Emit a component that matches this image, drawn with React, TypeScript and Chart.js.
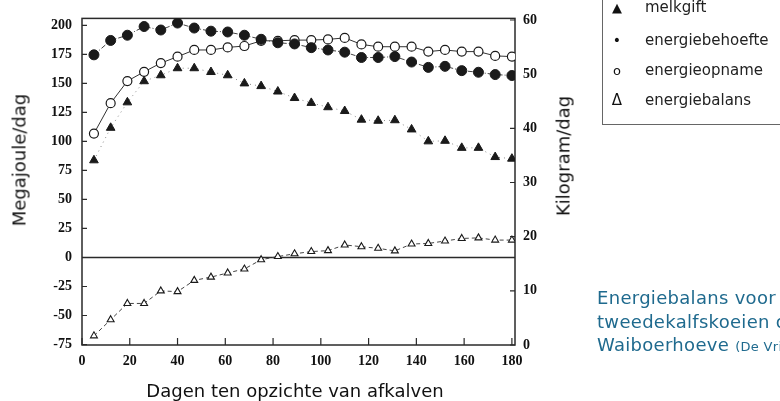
import React, { useEffect, useRef } from "react";
import { Chart, registerables } from "chart.js";

Chart.register(...registerables);

// Days after calving (weekly measurements)
const days = [5, 12, 19, 26, 33, 40, 47, 54, 61, 68, 75, 82, 89, 96, 103, 110, 117, 124, 131, 138, 145, 152, 159, 166, 173, 180];
// kg/day (right axis)
const melkgift = [34.1, 40.1, 44.8, 48.7, 49.8, 51.1, 51.1, 50.4, 49.8, 48.3, 47.8, 46.8, 45.6, 44.7, 43.9, 43.2, 41.6, 41.4, 41.5, 39.8, 37.6, 37.7, 36.4, 36.4, 34.7, 34.4];
// MJ/day (left axis)
const energiebehoefte = [174.6, 187, 191.5, 199, 196, 202, 197.7, 195, 194.3, 191.5, 188, 185, 184, 180.8, 178.8, 176.9, 172.3, 172.3, 173.1, 168.4, 163.8, 164.7, 161, 159.6, 157.6, 156.8];
const energieopname = [106.8, 133, 152, 160, 167.5, 173, 178.8, 178.8, 181, 182.2, 186.7, 186.7, 187.3, 187.3, 187.9, 189.2, 183.6, 181.6, 181.6, 181.6, 177.4, 178.8, 177.4, 177.4, 173.7, 173.1];
const energiebalans = [-67.5, -53.6, -39.6, -39.6, -28.8, -29.4, -19.7, -16.9, -13.3, -9.9, -1.9, 0.8, 3.2, 5.1, 5.9, 10.8, 9.3, 7.9, 5.7, 11.6, 12.1, 14.2, 16.4, 16.9, 15, 15];

const xTicks = [0, 20, 40, 60, 80, 100, 120, 140, 160, 180];
const leftTicks = [-75, -50, -25, 0, 25, 50, 75, 100, 125, 150, 175, 200];
const rightTicks = [0, 10, 20, 30, 40, 50, 60];

const legendItems = [
  { symbol: "▲", label: "melkgift" },
  { symbol: "•", label: "energiebehoefte" },
  { symbol: "o", label: "energieopname" },
  { symbol: "Δ", label: "energiebalans" },
];

const captionLines = ["Energiebalans voor", "tweedekalfskoeien op de"];
const captionLast = "Waiboerhoeve";
const captionSource = "(De Vries)";

const INK = "#1a1a1a";

const framePlugin = {
  id: "framePlugin",
  beforeDatasetsDraw(chart: any) {
    const { ctx, chartArea } = chart;
    const { left, right, top, bottom } = chartArea;
    const x = chart.scales.x;
    const y = chart.scales.y;
    const y2 = chart.scales.y2;
    ctx.save();
    ctx.strokeStyle = "#2a2a2a";
    ctx.lineWidth = 1.5;
    ctx.strokeRect(left, top, right - left, bottom - top);
    // zero line
    const y0 = y.getPixelForValue(0);
    ctx.beginPath();
    ctx.moveTo(left, y0);
    ctx.lineTo(right, y0);
    ctx.stroke();
    // inward ticks
    ctx.lineWidth = 1.2;
    ctx.beginPath();
    leftTicks.forEach((v) => {
      const p = y.getPixelForValue(v);
      ctx.moveTo(left, p);
      ctx.lineTo(left + 5, p);
    });
    rightTicks.forEach((v) => {
      const p = y2.getPixelForValue(v);
      ctx.moveTo(right, p);
      ctx.lineTo(right - 5, p);
    });
    xTicks.forEach((v) => {
      const p = x.getPixelForValue(v);
      ctx.moveTo(p, bottom);
      ctx.lineTo(p, bottom - 7);
    });
    ctx.stroke();
    ctx.restore();
  },
};

const tickFont = { family: "'Liberation Serif', 'Times New Roman', serif", weight: "bold" as const, size: 14 };

export default function App() {
  const canvasRef = useRef<HTMLCanvasElement | null>(null);

  useEffect(() => {
    const canvas = canvasRef.current;
    if (!canvas) return;
    const toPts = (arr: number[]) => days.map((d, i) => ({ x: d, y: arr[i] }));
    const chart = new Chart(canvas, {
      type: "line",
      data: {
        datasets: [
          {
            label: "melkgift",
            data: toPts(melkgift),
            yAxisID: "y2",
            borderColor: "#888",
            borderWidth: 1,
            borderDash: [1, 4],
            pointStyle: "triangle",
            pointRadius: 5,
            pointBackgroundColor: INK,
            pointBorderColor: INK,
            pointBorderWidth: 1,
          },
          {
            label: "energiebehoefte",
            data: toPts(energiebehoefte),
            yAxisID: "y",
            borderColor: "#444",
            borderWidth: 1,
            borderDash: [5, 2, 1, 2],
            pointStyle: "circle",
            pointRadius: 5,
            pointBackgroundColor: INK,
            pointBorderColor: INK,
            pointBorderWidth: 1,
          },
          {
            label: "energieopname",
            data: toPts(energieopname),
            yAxisID: "y",
            borderColor: "#333",
            borderWidth: 1,
            pointStyle: "circle",
            pointRadius: 4.5,
            pointBackgroundColor: "#ffffff",
            pointBorderColor: INK,
            pointBorderWidth: 1.2,
          },
          {
            label: "energiebalans",
            data: toPts(energiebalans),
            yAxisID: "y",
            borderColor: "#444",
            borderWidth: 1,
            borderDash: [4, 3],
            pointStyle: "triangle",
            pointRadius: 4,
            pointBackgroundColor: "#ffffff",
            pointBorderColor: INK,
            pointBorderWidth: 1.1,
          },
        ],
      },
      options: {
        animation: false,
        responsive: false,
        devicePixelRatio: 1,
        layout: { padding: { top: 13, left: 0, right: 0, bottom: 0 } },
        plugins: { legend: { display: false }, tooltip: { enabled: false } },
        scales: {
          x: {
            type: "linear",
            position: "bottom",
            min: 0,
            max: 181.3,
            afterBuildTicks: (s: any) => {
              s.ticks = xTicks.map((v) => ({ value: v }));
            },
            afterFit: (s: any) => {
              s.height = 56;
            },
            grid: { display: false, drawTicks: false },
            border: { display: false },
            ticks: { font: tickFont, color: "#111", padding: 8, autoSkip: false, maxRotation: 0 },
          },
          y: {
            type: "linear",
            position: "left",
            min: -75.4,
            max: 206,
            afterBuildTicks: (s: any) => {
              s.ticks = leftTicks.map((v) => ({ value: v }));
            },
            afterFit: (s: any) => {
              s.width = 82;
            },
            grid: { display: false, drawTicks: false },
            border: { display: false },
            ticks: { font: tickFont, color: "#111", padding: 10, autoSkip: false },
          },
          y2: {
            type: "linear",
            position: "right",
            min: 0,
            max: 60.3,
            afterBuildTicks: (s: any) => {
              s.ticks = rightTicks.map((v) => ({ value: v }));
            },
            afterFit: (s: any) => {
              s.width = 265;
            },
            grid: { display: false, drawTicks: false },
            border: { display: false },
            ticks: { font: tickFont, color: "#111", padding: 8, autoSkip: false },
          },
        },
      },
      plugins: [framePlugin],
    });
    return () => chart.destroy();
  }, []);

  const sans = "'DejaVu Sans', Verdana, sans-serif";

  return (
    <div
      style={{
        position: "fixed",
        left: 0,
        top: 0,
        width: 780,
        height: 401,
        background: "#ffffff",
        overflow: "hidden",
        fontFamily: sans,
      }}
    >
      <canvas ref={canvasRef} width={780} height={401} style={{ display: "block", width: 780, height: 401 }} />

      {/* y-axis titles */}
      <div
        style={{
          position: "absolute",
          left: 19,
          top: 160,
          transform: "translate(-50%, -50%) rotate(-90deg)",
          fontSize: 18,
          whiteSpace: "nowrap",
          color: "#111",
        }}
      >
        Megajoule/dag
      </div>
      <div
        style={{
          position: "absolute",
          left: 563,
          top: 156,
          transform: "translate(-50%, -50%) rotate(-90deg)",
          fontSize: 18,
          whiteSpace: "nowrap",
          color: "#111",
        }}
      >
        Kilogram/dag
      </div>
      {/* x-axis title */}
      <div
        style={{
          position: "absolute",
          left: 295,
          top: 390,
          transform: "translate(-50%, -50%)",
          fontSize: 18,
          whiteSpace: "nowrap",
          color: "#111",
        }}
      >
        Dagen ten opzichte van afkalven
      </div>

      {/* legend box */}
      <div
        style={{
          position: "absolute",
          left: 602,
          top: -3,
          width: 220,
          height: 128,
          border: "1px solid #666",
          boxSizing: "border-box",
        }}
      />
      {legendItems.map((it, i) => {
        const cy = [7, 40, 70, 100][i];
        const symSize = [13, 14, 13, 15][i];
        return (
          <React.Fragment key={it.label}>
            <div
              style={{
                position: "absolute",
                left: 617,
                top: cy,
                transform: "translate(-50%, -50%)",
                fontSize: symSize,
                lineHeight: 1,
                color: "#111",
              }}
            >
              {it.symbol}
            </div>
            <div
              style={{
                position: "absolute",
                left: 645,
                top: cy - 10,
                fontSize: 15,
                lineHeight: "20px",
                whiteSpace: "nowrap",
                color: "#222",
              }}
            >
              {it.label}
            </div>
          </React.Fragment>
        );
      })}

      {/* caption */}
      <div
        style={{
          position: "absolute",
          left: 597,
          top: 286,
          fontSize: 18,
          lineHeight: "23.5px",
          letterSpacing: "0.3px",
          color: "#1f6a8e",
          whiteSpace: "nowrap",
        }}
      >
        {captionLines.map((l) => (
          <div key={l}>{l}</div>
        ))}
        <div>
          {captionLast} <span style={{ fontSize: 13 }}>{captionSource}</span>
        </div>
      </div>
    </div>
  );
}
